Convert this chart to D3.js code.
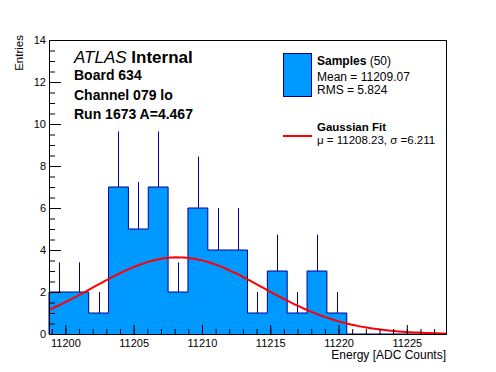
<!DOCTYPE html>
<html>
<head>
<meta charset="utf-8">
<script src="https://cdn.jsdelivr.net/npm/d3@7"></script>
<style>
  body { margin: 0; background: #fff; }
  svg { font-family: "Liberation Sans", Arial, sans-serif; }
</style>
</head>
<body>
<svg id="chart" width="496" height="372"></svg>
<script>
// histogram: 20 equal bins between the range limits
const xRange = [11198.8, 11227.87];
const binCounts = [2, 2, 1, 7, 5, 7, 2, 6, 4, 4, 1, 3, 1, 3, 1, 0, 0, 0, 0, 0];
const xTicks = [11200, 11205, 11210, 11215, 11220, 11225];
const yTicks = [0, 2, 4, 6, 8, 10, 12, 14];
const yMax = 14;

// gaussian fit parameters
const fitMean = 11208.23;
const fitSigma = 6.211;
const fitAmp = 3.65;

const labelLines = ["Board 634", "Channel 079 lo", "Run 1673 A=4.467"];

const margin = { top: 40, right: 50, bottom: 38, left: 49 },
  width = 496 - margin.left - margin.right,
  height = 372 - margin.top - margin.bottom;

const svg = d3.select("#chart");
const g = svg.append("g")
  .attr("transform", "translate(" + margin.left + "," + margin.top + ")");

const x = d3.scaleLinear().domain(xRange).range([0, width]);
const y = d3.scaleLinear().domain([0, yMax]).range([height, 0]);

const nBins = binCounts.length;
const binW = (xRange[1] - xRange[0]) / nBins;
const bins = binCounts.map((n, i) => ({
  lo: xRange[0] + i * binW,
  hi: xRange[0] + (i + 1) * binW,
  n: n
}));

g.append("defs").append("clipPath").attr("id", "clip")
  .append("rect").attr("width", width).attr("height", height);

// histogram outline + fill
const pts = [[x(xRange[0]), y(0)]];
bins.forEach(b => { pts.push([x(b.lo), y(b.n)]); pts.push([x(b.hi), y(b.n)]); });
pts.push([x(xRange[1]), y(0)]);

g.append("path")
  .attr("d", d3.line()(pts))
  .attr("fill", "#0099ff")
  .attr("stroke", "#000099")
  .attr("stroke-width", 1);

// error bars (upper half visible above fill)
g.selectAll(".err")
  .data(bins.filter(b => b.n > 0))
  .enter().append("line")
  .attr("class", "err")
  .attr("x1", d => Math.round(x((d.lo + d.hi) / 2)) + 0.5)
  .attr("x2", d => Math.round(x((d.lo + d.hi) / 2)) + 0.5)
  .attr("y1", d => y(d.n))
  .attr("y2", d => y(d.n + Math.sqrt(d.n)))
  .attr("stroke", "#000099")
  .attr("stroke-width", 1);

// fit curve
const gauss = v => fitAmp * Math.exp(-0.5 * Math.pow((v - fitMean) / fitSigma, 2));
const fitX = d3.range(101).map(i => xRange[0] + i * (xRange[1] - xRange[0]) / 100);
g.append("path")
  .attr("clip-path", "url(#clip)")
  .attr("d", d3.line().x(v => x(v)).y(v => y(gauss(v)))(fitX))
  .attr("fill", "none")
  .attr("stroke", "#ff0000")
  .attr("stroke-width", 2);

// axes
const xMinor = d3.range(Math.ceil(xRange[0]), xRange[1], 1);
const yMinor = d3.range(0, yMax + 0.01, 0.5);

g.append("g").attr("transform", "translate(0," + height + ")")
  .call(d3.axisBottom(x).tickValues(xMinor).tickSize(-5).tickFormat(""))
  .call(a => a.select(".domain").remove());
g.append("g").attr("transform", "translate(0," + height + ")")
  .call(d3.axisBottom(x).tickValues(xTicks).tickSize(-9).tickPadding(4).tickFormat(d3.format("d")))
  .call(a => a.select(".domain").remove())
  .selectAll("text").attr("dy", "0.71em").attr("y", 5);

g.append("g")
  .call(d3.axisLeft(y).tickValues(yMinor).tickSize(-6).tickFormat(""))
  .call(a => a.select(".domain").remove());
g.append("g")
  .call(d3.axisLeft(y).tickValues(yTicks).tickSize(-12).tickPadding(3).tickFormat(d3.format("d")))
  .call(a => a.select(".domain").remove());

g.selectAll(".tick line").attr("stroke", "#000");
g.selectAll(".tick text").attr("font-size", 11).attr("font-family", "Liberation Sans, Arial, sans-serif").attr("fill", "#000");

// frame
g.append("rect")
  .attr("x", 0.5).attr("y", 0.5)
  .attr("width", width).attr("height", height)
  .attr("fill", "none").attr("stroke", "#000").attr("stroke-width", 1);

// axis titles
svg.append("text")
  .attr("x", 446).attr("y", 359)
  .attr("text-anchor", "end").attr("font-size", 12)
  .text("Energy [ADC Counts]");
svg.append("text")
  .attr("transform", "translate(23,35) rotate(-90)")
  .attr("text-anchor", "end").attr("font-size", 11.5)
  .text("Entries");

// ATLAS label
const atl = svg.append("text").attr("x", 74).attr("y", 63).attr("font-size", 17);
atl.append("tspan").attr("font-style", "italic").text("ATLAS");
atl.append("tspan").attr("font-weight", "bold").text(" Internal");

svg.selectAll(".info")
  .data(labelLines)
  .enter().append("text")
  .attr("class", "info")
  .attr("x", 74)
  .attr("y", (d, i) => 80 + i * 19.7)
  .attr("font-size", 14).attr("font-weight", "bold")
  .text(d => d);

// legend
svg.append("rect")
  .attr("x", 283.5).attr("y", 53.5).attr("width", 28).attr("height", 43)
  .attr("fill", "#0099ff").attr("stroke", "#000099");
const s1 = svg.append("text").attr("x", 317).attr("y", 65).attr("font-size", 12);
s1.append("tspan").attr("font-weight", "bold").text("Samples");
s1.append("tspan").text(" (50)");
svg.append("text").attr("x", 317).attr("y", 81).attr("font-size", 12).text("Mean = 11209.07");
svg.append("text").attr("x", 317).attr("y", 93.5).attr("font-size", 12).text("RMS = 5.824");

svg.append("line")
  .attr("x1", 283).attr("x2", 312).attr("y1", 136).attr("y2", 136)
  .attr("stroke", "#ff0000").attr("stroke-width", 2);
svg.append("text").attr("x", 317).attr("y", 131).attr("font-size", 11.5)
  .attr("font-weight", "bold").text("Gaussian Fit");
svg.append("text").attr("x", 317).attr("y", 144).attr("font-size", 11.5)
  .text("\u03bc = 11208.23, \u03c3 =6.211");
</script>
</body>
</html>
